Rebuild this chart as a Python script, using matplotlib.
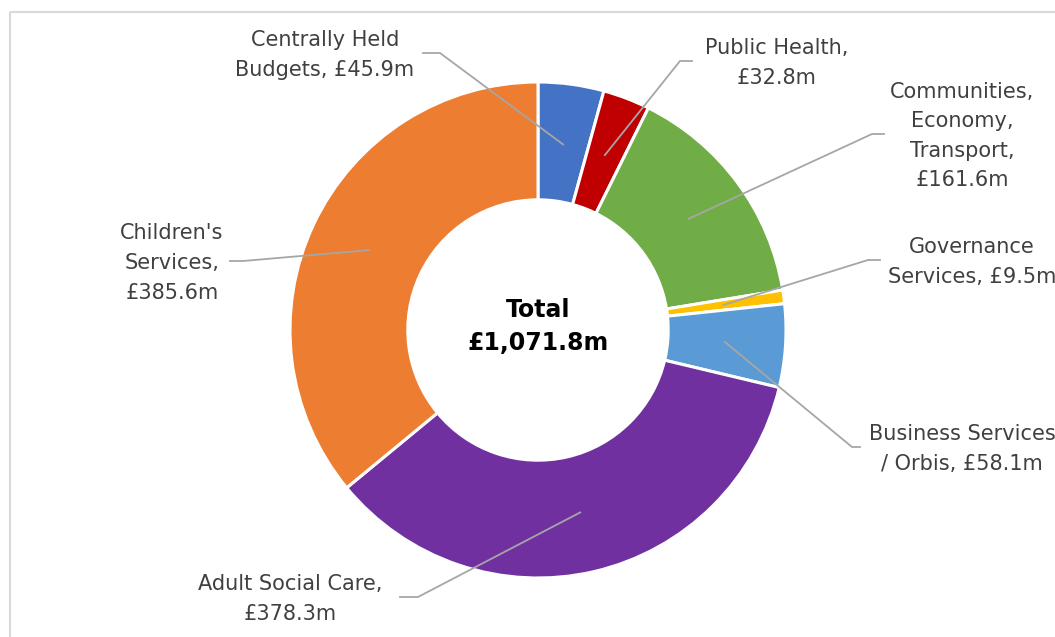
import numpy as np
import matplotlib
matplotlib.use("Agg")
import matplotlib.pyplot as plt
from matplotlib.patches import Rectangle

# Budget by directorate (£m), clockwise from 12 o'clock
categories = ["Centrally Held\nBudgets", "Public Health", "Communities,\nEconomy,\nTransport",
              "Governance\nServices", "Business Services\n/ Orbis", "Adult Social Care",
              "Children's\nServices"]
values = [45.9, 32.8, 161.6, 9.5, 58.1, 378.3, 385.6]
colors = ["#4472C4", "#C00000", "#70AD47", "#FFC000", "#5B9BD5", "#7030A0", "#ED7D31"]
label_texts = ["Centrally Held\nBudgets, £45.9m", "Public Health,\n£32.8m",
               "Communities,\nEconomy,\nTransport,\n£161.6m", "Governance\nServices, £9.5m",
               "Business Services\n/ Orbis, £58.1m", "Adult Social Care,\n£378.3m",
               "Children's\nServices,\n£385.6m"]

W, H = 1055, 637
fig = plt.figure(figsize=(W / 100, H / 100), dpi=100)
ax = fig.add_axes([0, 0, 1, 1])

# chart frame
ax.add_patch(Rectangle((10, 12), W + 20, H + 20, fill=False, edgecolor="#D9D9D9", lw=1.5))

cx, cy, R = 538, 330, 248
# y axis runs downward, so start at -90 and go counterclockwise in data space
# to appear clockwise from the top on screen
wedges, _ = ax.pie(values, colors=colors, startangle=-90, counterclock=True,
                   radius=R, center=(cx, cy), frame=True,
                   wedgeprops=dict(width=R * 0.475, edgecolor="white", linewidth=2.2))
ax.set_xlim(0, W)
ax.set_ylim(H, 0)
ax.set_aspect("equal")
ax.axis("off")

# label placement: (text centre x, text centre y, elbow x, end x)
label_pos = [
    (325, 55, 440, 423),
    (777, 63, 680, 692),
    (962, 136, 872, 884),
    (972, 262, 868, 880),
    (962, 449, 852, 860),
    (290, 599, 418, 400),
    (172, 263, 243, 230),
]

font = ["DejaVu Sans"]
total = sum(values)
cum = 0.0
for v, txt, (tx, ty, ex, endx) in zip(values, label_texts, label_pos):
    mid = (cum + v / 2) / total * 2 * np.pi
    cum += v
    ax_x = cx + 0.755 * R * np.sin(mid)
    ax_y = cy - 0.755 * R * np.cos(mid)
    ey = ty - 2
    ax.plot([ax_x, ex, endx], [ax_y, ey, ey], color="#A6A6A6", lw=1.3, zorder=5)
    ax.text(tx, ty, txt, ha="center", va="center", fontsize=15, color="#404040",
            family=font, linespacing=1.6)

ax.text(cx, 310, "Total", ha="center", va="center", fontsize=17, fontweight="bold",
        color="black", family=font)
ax.text(cx, 343, "£1,071.8m", ha="center", va="center", fontsize=17, fontweight="bold",
        color="black", family=font)

fig.savefig("out.png", dpi=100)
